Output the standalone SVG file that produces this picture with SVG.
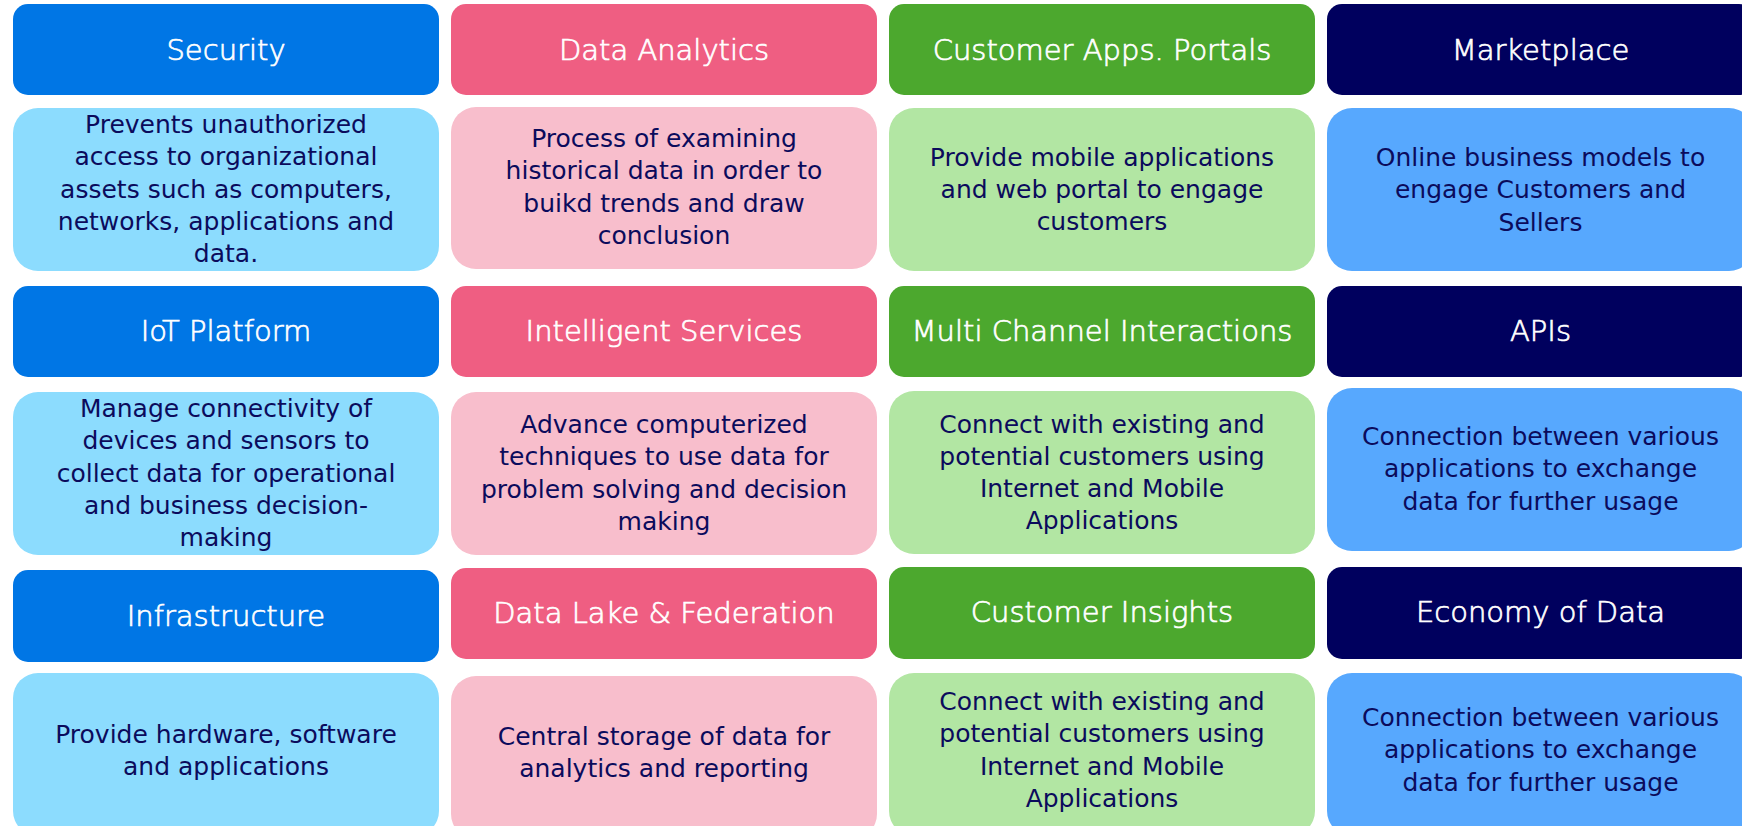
<svg xmlns="http://www.w3.org/2000/svg" width="1742" height="826" viewBox="0 0 1742 826">
<style>
.hd{font-family:"DejaVu Sans","Open Sans",sans-serif;font-weight:300;font-size:29px;fill:#ffffff;stroke:#ffffff;stroke-width:0.7px;text-anchor:middle}
.ds{font-family:"DejaVu Sans","Open Sans",sans-serif;font-size:25px;fill:#0b0b5c;text-anchor:middle}
.h1{fill:#0076e5}.d1{fill:#8cdcfe}
.h2{fill:#ef5e82}.d2{fill:#f8becc}
.h3{fill:#4ca82e}.d3{fill:#b2e6a3}
.h4{fill:#00005e}.d4{fill:#57a8fe}
</style>
<rect x="0" y="0" width="1742" height="826" fill="#ffffff"/>

<!-- Column 1 -->
<g id="security-header"><rect class="h1" x="13" y="4" width="426" height="91" rx="15"/><text class="hd" x="226" y="60">Security</text></g>
<g id="security-desc"><rect class="d1" x="13" y="108" width="426" height="163" rx="25"/>
<text class="ds" x="226" y="133"><tspan x="226">Prevents unauthorized</tspan><tspan x="226" dy="32.3">access to organizational</tspan><tspan x="226" dy="32.3">assets such as computers,</tspan><tspan x="226" dy="32.3">networks, applications and</tspan><tspan x="226" dy="32.3">data.</tspan></text></g>
<g id="iot-header"><rect class="h1" x="13" y="286" width="426" height="91" rx="15"/><text class="hd" x="226" y="340.5">IoT Platform</text></g>
<g id="iot-desc"><rect class="d1" x="13" y="392" width="426" height="163" rx="25"/>
<text class="ds" x="226" y="417"><tspan x="226">Manage connectivity of</tspan><tspan x="226" dy="32.3">devices and sensors to</tspan><tspan x="226" dy="32.3">collect data for operational</tspan><tspan x="226" dy="32.3">and business decision-</tspan><tspan x="226" dy="32.3">making</tspan></text></g>
<g id="infra-header"><rect class="h1" x="13" y="570" width="426" height="92" rx="15"/><text class="hd" x="226" y="626">Infrastructure</text></g>
<g id="infra-desc"><rect class="d1" x="13" y="673" width="426" height="163" rx="25"/>
<text class="ds" x="226" y="743"><tspan x="226">Provide hardware, software</tspan><tspan x="226" dy="32.3">and applications</tspan></text></g>

<!-- Column 2 -->
<g id="analytics-header"><rect class="h2" x="451" y="4" width="426" height="91" rx="15"/><text class="hd" x="664" y="60">Data Analytics</text></g>
<g id="analytics-desc"><rect class="d2" x="451" y="107" width="426" height="162" rx="25"/>
<text class="ds" x="664" y="147"><tspan x="664">Process of examining</tspan><tspan x="664" dy="32.3">historical data in order to</tspan><tspan x="664" dy="32.3">buikd trends and draw</tspan><tspan x="664" dy="32.3">conclusion</tspan></text></g>
<g id="intelligent-header"><rect class="h2" x="451" y="286" width="426" height="91" rx="15"/><text class="hd" x="664" y="340.5">Intelligent Services</text></g>
<g id="intelligent-desc"><rect class="d2" x="451" y="392" width="426" height="163" rx="25"/>
<text class="ds" x="664" y="433"><tspan x="664">Advance computerized</tspan><tspan x="664" dy="32.3">techniques to use data for</tspan><tspan x="664" dy="32.3">problem solving and decision</tspan><tspan x="664" dy="32.3">making</tspan></text></g>
<g id="datalake-header"><rect class="h2" x="451" y="568" width="426" height="91" rx="15"/><text class="hd" x="664" y="623">Data Lake &amp; Federation</text></g>
<g id="datalake-desc"><rect class="d2" x="451" y="676" width="426" height="163" rx="25"/>
<text class="ds" x="664" y="745"><tspan x="664">Central storage of data for</tspan><tspan x="664" dy="32.3">analytics and reporting</tspan></text></g>

<!-- Column 3 -->
<g id="apps-header"><rect class="h3" x="889" y="4" width="426" height="91" rx="15"/><text class="hd" x="1102" y="60">Customer Apps. Portals</text></g>
<g id="apps-desc"><rect class="d3" x="889" y="108" width="426" height="163" rx="25"/>
<text class="ds" x="1102" y="165.5"><tspan x="1102">Provide mobile applications</tspan><tspan x="1102" dy="32.3">and web portal to engage</tspan><tspan x="1102" dy="32.3">customers</tspan></text></g>
<g id="multichannel-header"><rect class="h3" x="889" y="286" width="426" height="91" rx="15"/><text class="hd" x="1102" y="340.5">Multi Channel Interactions</text></g>
<g id="multichannel-desc"><rect class="d3" x="889" y="391" width="426" height="163" rx="25"/>
<text class="ds" x="1102" y="432.5"><tspan x="1102">Connect with existing and</tspan><tspan x="1102" dy="32.3">potential customers using</tspan><tspan x="1102" dy="32.3">Internet and Mobile</tspan><tspan x="1102" dy="32.3">Applications</tspan></text></g>
<g id="insights-header"><rect class="h3" x="889" y="567" width="426" height="92" rx="15"/><text class="hd" x="1102" y="622">Customer Insights</text></g>
<g id="insights-desc"><rect class="d3" x="889" y="673" width="426" height="163" rx="25"/>
<text class="ds" x="1102" y="710"><tspan x="1102">Connect with existing and</tspan><tspan x="1102" dy="32.3">potential customers using</tspan><tspan x="1102" dy="32.3">Internet and Mobile</tspan><tspan x="1102" dy="32.3">Applications</tspan></text></g>

<!-- Column 4 -->
<g id="marketplace-header"><rect class="h4" x="1327" y="4" width="427" height="91" rx="15"/><text class="hd" x="1540.5" y="60">Marketplace</text></g>
<g id="marketplace-desc"><rect class="d4" x="1327" y="108" width="427" height="163" rx="25"/>
<text class="ds" x="1540.5" y="166"><tspan x="1540.5">Online business models to</tspan><tspan x="1540.5" dy="32.3">engage Customers and</tspan><tspan x="1540.5" dy="32.3">Sellers</tspan></text></g>
<g id="apis-header"><rect class="h4" x="1327" y="286" width="427" height="91" rx="15"/><text class="hd" x="1540.5" y="340.5">APIs</text></g>
<g id="apis-desc"><rect class="d4" x="1327" y="388" width="427" height="163" rx="25"/>
<text class="ds" x="1540.5" y="445"><tspan x="1540.5">Connection between various</tspan><tspan x="1540.5" dy="32.3">applications to exchange</tspan><tspan x="1540.5" dy="32.3">data for further usage</tspan></text></g>
<g id="economy-header"><rect class="h4" x="1327" y="567" width="427" height="92" rx="15"/><text class="hd" x="1540.5" y="622">Economy of Data</text></g>
<g id="economy-desc"><rect class="d4" x="1327" y="673" width="427" height="163" rx="25"/>
<text class="ds" x="1540.5" y="726"><tspan x="1540.5">Connection between various</tspan><tspan x="1540.5" dy="32.3">applications to exchange</tspan><tspan x="1540.5" dy="32.3">data for further usage</tspan></text></g>
</svg>
